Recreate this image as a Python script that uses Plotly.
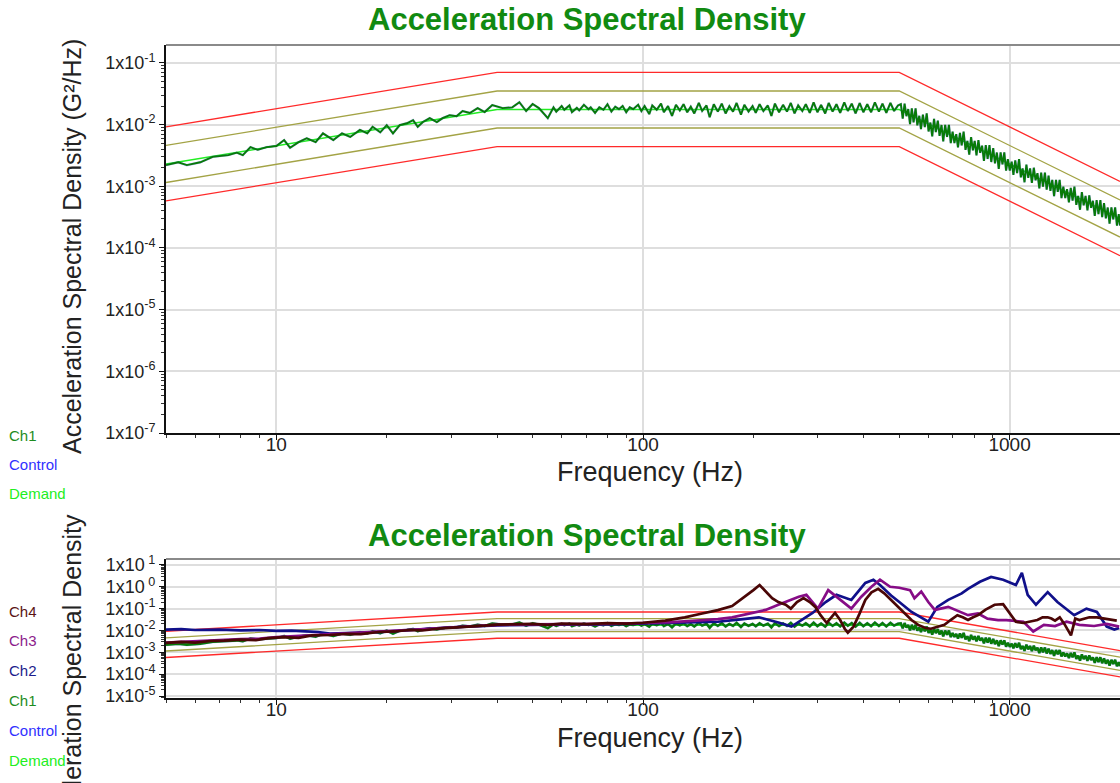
import math
import plotly.graph_objects as go

# ---------------- data ----------------
# Test profile (demand) breakpoints, G^2/Hz
prof_freq = [5, 40, 500, 2000]
prof_demand = [0.0023, 0.0175, 0.0175, 0.00030]
abort_hi = [0.0092, 0.070, 0.070, 0.00120]
alarm_hi = [0.0046, 0.035, 0.035, 0.00060]
alarm_lo = [0.00115, 0.0088, 0.0088, 0.00015]
abort_lo = [0.00058, 0.0044, 0.0044, 0.000075]

# Ch1 measured response: low band in G^2/Hz
ch1_freq_low = [5.0, 5.4, 5.7, 6.2, 6.7, 7.4, 7.8, 8.1, 8.5, 8.9,
                9.4, 10.0, 10.5, 10.9, 11.5, 12.1, 12.8, 13.4, 14.3, 15.1,
                15.9, 16.9, 17.7, 18.3, 19.2, 20.0, 20.8, 21.7, 22.7, 23.6,
                24.3, 25.1, 26.2, 27.4, 28.4, 29.7, 31.0, 32.2, 33.7, 35.4,
                37.0, 38.8, 41.4, 44.0, 46.0, 48.0, 50.0, 52.0, 55.0, 57.0]
ch1_psd_low = [0.0022, 0.00245, 0.0022, 0.00245, 0.0030, 0.0032, 0.0035, 0.0032, 0.0043, 0.0039,
               0.0043, 0.0045, 0.0056, 0.0042, 0.0052, 0.0060, 0.0052, 0.0072, 0.0056, 0.0072,
               0.0063, 0.0082, 0.0072, 0.0092, 0.0075, 0.0098, 0.0072, 0.0098, 0.0105, 0.0118,
               0.0092, 0.0110, 0.0127, 0.0110, 0.0127, 0.0142, 0.0137, 0.0166, 0.0154, 0.0185,
               0.0160, 0.0207, 0.0185, 0.0190, 0.0230, 0.0166, 0.0215, 0.0185, 0.0127, 0.0190]
# plateau, in dB re 1 G^2/Hz
ch1_freq_mid = [58, 60, 61, 63, 64, 66, 67, 69, 71, 72,
                74, 76, 78, 80, 82, 84, 86, 88, 90, 92,
                94, 97, 99, 101, 104, 106, 109, 112, 114, 117,
                120, 123, 126, 129, 132, 135, 138, 142, 145, 149,
                152, 156, 160, 164, 168, 172, 176, 180, 185, 189,
                194, 199, 203, 208, 213, 219, 224, 229, 235, 241,
                247, 253, 259, 265, 272, 278, 285, 292, 299, 306,
                314, 321, 329, 337, 345, 354, 362, 371, 380, 390,
                399, 409, 419, 429, 440, 450, 461, 473, 484, 496]
ch1_db_mid = [-17.9, -17.0, -17.6, -16.9, -18.0, -17.3, -17.7, -16.8, -17.5, -17.2,
              -18.1, -17.2, -17.6, -16.7, -17.9, -17.1, -17.5, -17.0, -18.0, -17.2,
              -17.5, -16.8, -17.8, -17.0, -18.3, -16.9, -17.6, -16.6, -18.0, -17.0,
              -18.6, -16.8, -17.7, -16.7, -18.0, -17.1, -18.2, -16.5, -17.8, -16.9,
              -18.8, -16.7, -17.9, -16.6, -18.2, -17.0, -17.9, -16.5, -18.4, -16.8,
              -17.9, -17.0, -18.1, -16.7, -17.8, -16.9, -18.6, -16.6, -18.0, -16.8,
              -17.9, -16.5, -18.2, -16.9, -17.8, -16.7, -18.1, -16.4, -18.0, -16.8,
              -18.2, -16.5, -17.9, -16.7, -18.1, -16.4, -17.8, -16.6, -18.2, -16.5,
              -18.0, -16.7, -18.0, -16.4, -17.9, -16.6, -18.1, -16.5, -17.8, -16.9]
# roll-off, in dB re 1 G^2/Hz
ch1_freq_high = [505, 511, 517, 523, 529, 535, 541, 547, 554, 560,
                 567, 573, 580, 587, 594, 601, 608, 615, 622, 629,
                 637, 644, 652, 659, 667, 675, 683, 691, 699, 707,
                 715, 723, 732, 740, 749, 758, 767, 776, 785, 794,
                 803, 812, 822, 831, 841, 851, 861, 871, 881, 891,
                 902, 912, 923, 934, 945, 956, 967, 978, 989, 1001,
                 1013, 1024, 1036, 1048, 1061, 1073, 1085, 1098, 1111, 1124,
                 1137, 1150, 1164, 1177, 1191, 1205, 1219, 1233, 1248, 1262,
                 1277, 1292, 1307, 1322, 1338, 1353, 1369, 1385, 1401, 1418,
                 1434, 1451, 1468, 1485, 1502, 1520, 1538, 1556, 1574, 1592,
                 1611, 1630, 1649, 1668, 1687, 1707, 1727, 1747, 1768, 1788,
                 1809, 1830, 1852, 1873, 1895, 1917, 1940, 1962, 1985, 2000]
ch1_db_high = [-16.70, -19.05, -16.60, -18.64, -17.49, -19.94, -17.39, -19.64, -17.38, -20.13,
               -18.58, -20.73, -18.38, -20.42, -18.17, -21.12, -19.67, -21.92, -19.06, -21.21,
               -19.37, -21.82, -20.07, -22.71, -20.06, -22.01, -20.06, -23.01, -21.15, -23.00,
               -21.55, -23.70, -21.35, -23.39, -21.14, -24.09, -22.64, -24.89, -22.03, -24.18,
               -22.64, -24.99, -22.54, -24.58, -23.43, -25.88, -23.33, -25.58, -23.32, -26.07,
               -23.83, -26.28, -24.53, -27.17, -24.52, -26.47, -24.52, -27.47, -25.61, -27.46,
               -26.01, -28.16, -25.81, -27.85, -25.60, -28.55, -27.10, -29.35, -26.49, -28.64,
               -27.10, -29.45, -27.00, -29.04, -27.89, -30.34, -27.79, -30.04, -27.78, -30.53,
               -28.28, -30.73, -28.98, -31.62, -28.97, -30.92, -28.97, -31.92, -30.06, -31.91,
               -30.47, -32.62, -30.27, -32.31, -30.06, -33.01, -31.56, -33.81, -30.95, -33.10,
               -31.56, -33.91, -31.46, -33.50, -32.35, -34.80, -32.25, -34.50, -32.24, -34.99,
               -32.74, -35.19, -33.44, -36.08, -33.43, -35.38, -33.43, -36.38, -34.52, -36.37]

ch2_freq = [5, 5.5, 6, 7, 8, 9, 10, 11, 12, 13,
            14, 16, 18, 20, 24, 28, 33, 40, 50, 60,
            80, 100, 130, 160, 185, 207, 234, 254, 290, 315,
            337, 370, 404, 425, 443, 475, 500, 540, 600, 635,
            680, 720, 740, 770, 830, 890, 960, 1040, 1080, 1120,
            1180, 1270, 1350, 1500, 1620, 1730, 1840, 1930, 1990]
ch2_psd = [0.011, 0.0115, 0.0105, 0.011, 0.010, 0.0105, 0.0095, 0.0098, 0.0090, 0.0085,
           0.0072, 0.0075, 0.0082, 0.0088, 0.011, 0.013, 0.015, 0.017, 0.018, 0.019,
           0.019, 0.021, 0.022, 0.025, 0.032, 0.040, 0.023, 0.015, 0.063, 0.20,
           0.43, 0.25, 1.5, 2.1, 1.2, 0.40, 0.20, 0.07, 0.025, 0.12,
           0.25, 0.40, 0.5, 0.8, 1.7, 2.8, 2.1, 1.2, 4.3, 0.43,
           0.15, 0.57, 0.2, 0.05, 0.1, 0.07, 0.015, 0.011, 0.013]

ch3_freq = [5, 6, 7, 8, 9, 10, 12, 14, 17, 20,
            24, 28, 33, 40, 50, 60, 70, 80, 100, 120,
            140, 160, 175, 195, 216, 234, 254, 266, 279, 300,
            320, 337, 370, 394, 420, 443, 472, 500, 535, 550,
            574, 600, 625, 680, 770, 820, 870, 930, 980, 1090,
            1160, 1240, 1330, 1430, 1550, 1700, 1840, 1990]
ch3_psd = [0.0028, 0.0031, 0.0036, 0.0040, 0.0042, 0.0050, 0.0058, 0.0066, 0.0078, 0.0095,
           0.011, 0.013, 0.015, 0.018, 0.019, 0.019, 0.020, 0.020, 0.022, 0.024,
           0.028, 0.033, 0.040, 0.060, 0.087, 0.15, 0.25, 0.35, 0.43, 0.10,
           0.70, 0.35, 0.10, 0.35, 1.0, 2.1, 1.0, 0.9, 0.7, 0.3,
           0.6, 0.2, 0.087, 0.12, 0.05, 0.06, 0.035, 0.03, 0.03, 0.025,
           0.009, 0.018, 0.016, 0.025, 0.018, 0.016, 0.02, 0.015]

ch4_freq = [5, 5.5, 6, 6.6, 7.2, 8, 8.8, 9.5, 10.5, 11.5,
            12.5, 14, 15.5, 17, 19, 21, 23, 25, 28, 31,
            34, 37, 40, 45, 50, 55, 60, 70, 80, 90,
            100, 115, 130, 145, 160, 175, 190, 200, 208, 215,
            225, 234, 245, 253, 263, 274, 285, 295, 305, 317,
            326, 334, 345, 355, 362, 375, 388, 404, 420, 438,
            455, 475, 495, 518, 540, 563, 590, 610, 635, 664,
            690, 720, 745, 770, 795, 820, 860, 910, 960, 985,
            1010, 1040, 1090, 1140, 1190, 1230, 1270, 1300, 1330, 1370,
            1410, 1470, 1510, 1550, 1650, 1730, 1800, 1880, 1960]
ch4_psd = [0.0027, 0.0030, 0.0028, 0.0033, 0.0034, 0.0038, 0.0036, 0.0045, 0.0050, 0.0046,
           0.0060, 0.0062, 0.0070, 0.0068, 0.0085, 0.0090, 0.0105, 0.0100, 0.0125, 0.0135,
           0.0150, 0.0165, 0.0185, 0.0195, 0.0200, 0.0180, 0.0205, 0.0195, 0.0215, 0.0205,
           0.0225, 0.028, 0.040, 0.060, 0.085, 0.13, 0.35, 0.70, 1.2, 0.70,
           0.30, 0.20, 0.15, 0.10, 0.20, 0.30, 0.20, 0.12, 0.05, 0.022,
           0.04, 0.063, 0.03, 0.012, 0.008, 0.015, 0.05, 0.25, 0.55, 0.8,
           0.5, 0.25, 0.12, 0.063, 0.03, 0.018, 0.013, 0.012, 0.014, 0.018,
           0.03, 0.05, 0.04, 0.03, 0.04, 0.05, 0.09, 0.15, 0.16, 0.09,
           0.05, 0.025, 0.022, 0.025, 0.03, 0.04, 0.04, 0.035, 0.028, 0.04,
           0.02, 0.006, 0.035, 0.03, 0.04, 0.04, 0.035, 0.032, 0.028]

x_ticks = [10, 100, 1000]
top_exps = [-7, -6, -5, -4, -3, -2, -1]
bot_exps = [-5, -4, -3, -2, -1, 0, 1]
top_legend = ["Ch1", "Control", "Demand"]
bottom_legend = ["Ch4", "Ch3", "Ch2", "Ch1", "Control", "Demand"]

# ---------------- styling ----------------
W, H = 1120, 783
FONT = "Liberation Sans, Arial, sans-serif"
colors = {"Ch1": "#087a08", "Control": "#2b2bff", "Demand": "#22ee22",
          "Ch2": "#10108a", "Ch3": "#860c86", "Ch4": "#4a0606"}
legend_colors = {"Ch1": "#1e8c1e", "Control": "#3030ff", "Demand": "#22ee22",
                 "Ch2": "#1c1c8c", "Ch3": "#8c1c8c", "Ch4": "#5a1414"}
RED = "#ff2a2a"
OLIVE = "#a3a345"

ch1_freq = ch1_freq_low + ch1_freq_mid + ch1_freq_high
ch1_psd = ch1_psd_low + [10 ** (d / 10) for d in ch1_db_mid] + [10 ** (d / 10) for d in ch1_db_high]


def py(p):
    return 1 - p / H


def px(p):
    return p / W


fig = go.Figure()


def add_common(xa, ya, w):
    for lim, col in [(abort_hi, RED), (abort_lo, RED), (alarm_hi, OLIVE), (alarm_lo, OLIVE)]:
        fig.add_trace(go.Scatter(x=prof_freq, y=lim, mode="lines", xaxis=xa, yaxis=ya,
                                 line=dict(color=col, width=1.3), showlegend=False, hoverinfo="skip"))
    fig.add_trace(go.Scatter(x=prof_freq, y=prof_demand, mode="lines", xaxis=xa, yaxis=ya,
                             line=dict(color=colors["Demand"], width=1.5), showlegend=False))
    fig.add_trace(go.Scatter(x=ch1_freq, y=ch1_psd, mode="lines", xaxis=xa, yaxis=ya,
                             line=dict(color=colors["Control"], width=w + 0.5), opacity=0.3,
                             showlegend=False))
    fig.add_trace(go.Scatter(x=ch1_freq, y=ch1_psd, mode="lines", xaxis=xa, yaxis=ya,
                             line=dict(color=colors["Ch1"], width=w), showlegend=False))


add_common("x", "y", 1.9)
add_common("x2", "y2", 2.4)
for f, v, name in [(ch2_freq, ch2_psd, "Ch2"), (ch3_freq, ch3_psd, "Ch3"), (ch4_freq, ch4_psd, "Ch4")]:
    fig.add_trace(go.Scatter(x=f, y=v, mode="lines", xaxis="x2", yaxis="y2",
                             line=dict(color=colors[name], width=2.7), showlegend=False))

minor_x = [m * 10 ** d for d in range(0, 4) for m in range(2, 10) if 5 <= m * 10 ** d <= 2000]


def yminor(exps):
    return [m * 10.0 ** d for d in range(exps[0] - 1, exps[-1] + 1) for m in range(2, 10)]


xcommon = dict(type="log", range=[math.log10(5), math.log10(2000)], automargin=False,
               tickvals=x_ticks, ticktext=[str(t) for t in x_ticks],
               showgrid=True, gridcolor="#dedede", gridwidth=1.5,
               showline=True, linecolor="#111", linewidth=2,
               ticks="outside", ticklen=5, tickcolor="#111", ticklabelstandoff=-12,
               minor=dict(tickvals=minor_x, ticks="outside", ticklen=3, tickcolor="#333", showgrid=False),
               tickfont=dict(family=FONT, size=19, color="#222"), zeroline=False)


def ylabels(exps):
    out = []
    for e in exps:
        s = str(e) if e < 0 else "\u00a0" + str(e)
        out.append("1x10<sup>" + s + "</sup>")
    return out


def ycommon(exps, rng):
    return dict(type="log", range=rng, automargin=False,
                tickvals=[10.0 ** e for e in exps], ticktext=ylabels(exps),
                showgrid=True, gridcolor="#dedede", gridwidth=1.5,
                showline=True, linecolor="#111", linewidth=2,
                ticks="outside", ticklen=5, tickcolor="#111",
                minor=dict(tickvals=yminor(exps), ticks="outside", ticklen=3, tickcolor="#333", showgrid=False),
                tickfont=dict(family=FONT, size=18, color="#222"), zeroline=False)


x0 = px(166)
fig.update_layout(
    width=W, height=H, margin=dict(l=0, r=0, t=0, b=0, autoexpand=False),
    paper_bgcolor="white", plot_bgcolor="white", showlegend=False,
    xaxis=dict(domain=[x0, 1], anchor="y", **xcommon),
    yaxis=dict(domain=[py(433), py(45)], anchor="x", **ycommon(top_exps, [-7, -0.71])),
    xaxis2=dict(domain=[x0, 1], anchor="y2", **xcommon),
    yaxis2=dict(domain=[py(698), py(559)], anchor="x2", **ycommon(bot_exps, [-5.09, 1.27])),
)

shapes = []
for xr, yr in [("x domain", "y domain"), ("x2 domain", "y2 domain")]:
    shapes.append(dict(type="line", xref=xr, yref=yr, x0=0, x1=1, y0=1, y1=1,
                       line=dict(color="#8a8a8a", width=2)))
fig.update_layout(shapes=shapes)

ann = []
title_font = dict(family=FONT, size=31, color="#118a11")
for yc in [20, 535]:
    ann.append(dict(text="<b>Acceleration Spectral Density</b>", x=px(587), y=py(yc), xref="paper", yref="paper",
                    showarrow=False, font=title_font, xanchor="center", yanchor="middle"))
for yc in [472, 738]:
    ann.append(dict(text="Frequency (Hz)", x=px(650), y=py(yc), xref="paper", yref="paper",
                    showarrow=False, font=dict(family=FONT, size=27, color="#222"),
                    xanchor="center", yanchor="middle"))
ann.append(dict(text="Acceleration Spectral Density (G\u00b2/Hz)", x=px(72), y=py(247), xref="paper", yref="paper",
                showarrow=False, textangle=-90, font=dict(family=FONT, size=25, color="#222"),
                xanchor="center", yanchor="middle"))
ann.append(dict(text="Acceleration Spectral Density", x=px(72), y=py(678), xref="paper", yref="paper",
                showarrow=False, textangle=-90, font=dict(family=FONT, size=25, color="#222"),
                xanchor="center", yanchor="middle"))
for i, name in enumerate(top_legend):
    ann.append(dict(text=name, x=px(7), y=py(435 + 29 * i), xref="paper", yref="paper", showarrow=False,
                    font=dict(family=FONT, size=15, color=legend_colors[name]), xanchor="left", yanchor="middle"))
for i, name in enumerate(bottom_legend):
    ann.append(dict(text=name, x=px(7), y=py(611 + 29.8 * i), xref="paper", yref="paper", showarrow=False,
                    font=dict(family=FONT, size=15, color=legend_colors[name]), xanchor="left", yanchor="middle"))
fig.update_layout(annotations=ann)

fig.write_html("out.html")
